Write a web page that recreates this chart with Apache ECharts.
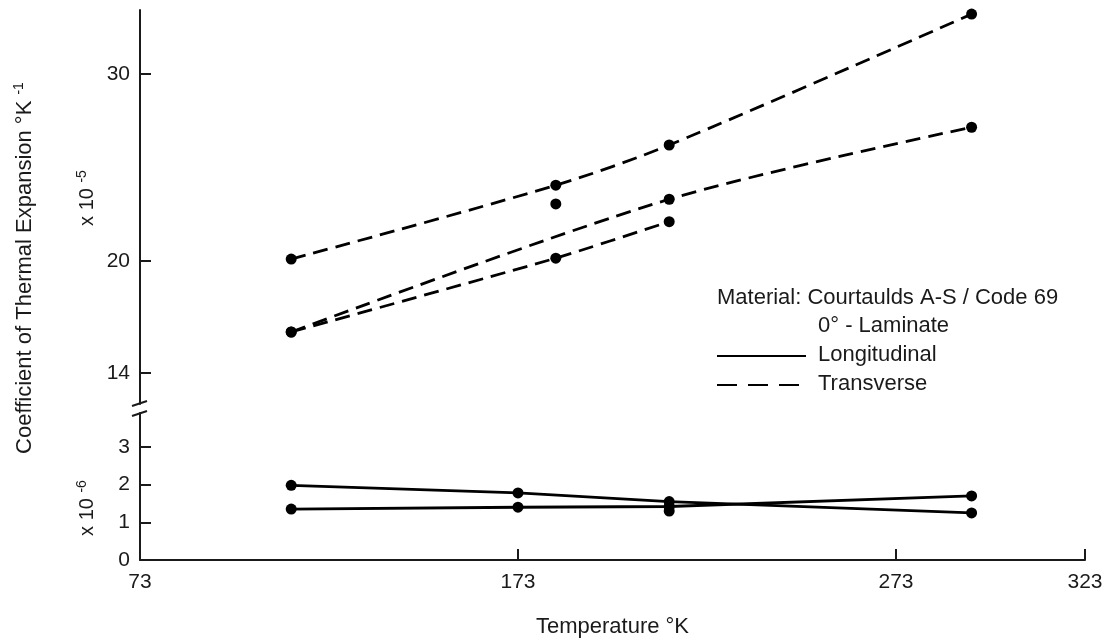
<!DOCTYPE html>
<html>
<head>
<meta charset="utf-8">
<script src="https://cdn.jsdelivr.net/npm/echarts@6/dist/echarts.min.js"></script>
<style>
  html, body { margin: 0; padding: 0; background: #fff; }
  #chart { width: 1108px; height: 642px; }
</style>
</head>
<body>
<div id="chart"></div>
<script>
// x axis (Temperature °K)
var xTicks = [73, 173, 273, 323];
// upper part, transverse, x 10^-5
var upperTicks = [14, 20, 30];
var transTempA = [113, 183, 213, 293];
var transA = [20.1, 24.05, 26.2, 33.2];
var transTempB = [113, 213, 293];
var transB = [16.2, 23.3, 27.15];
var transTempC = [113, 183, 213];
var transC = [16.2, 20.15, 22.1];
var transLoneTemp = [183];
var transLone = [23.05];
// lower part, longitudinal, x 10^-6
var lowerTicks = [0, 1, 2, 3];
var longTemp = [113, 173, 213, 293];
var longA = [1.98, 1.78, 1.55, 1.25];
var longB = [1.35, 1.4, 1.42, 1.7];
var longLoneTemp = [213];
var longLone = [1.3];

function pairs(xs, ys) {
  return xs.map(function (x, i) { return [x, ys[i]]; });
}

var font = 'Liberation Sans, Arial, sans-serif';
var ink = '#1a1a1a';

var chart = echarts.init(document.getElementById('chart'));

var xBase = {
  type: 'value',
  min: 73,
  max: 323,
  axisLine: { lineStyle: { color: ink, width: 2 } },
  splitLine: { show: false }
};

var yBase = {
  type: 'value',
  axisLine: { show: true, lineStyle: { color: ink, width: 2 } },
  axisTick: { show: true, inside: true, length: 11, lineStyle: { color: ink, width: 2 } },
  axisLabel: { color: ink, fontSize: 21, fontFamily: font, margin: 10 },
  splitLine: { show: false }
};

var dashed = { color: '#000', width: 2.8, type: [15, 8] };
var solid = { color: '#000', width: 2.8, type: 'solid' };

function lineSeries(grid, xs, ys, style, smooth) {
  return {
    type: 'line',
    xAxisIndex: grid,
    yAxisIndex: grid,
    data: pairs(xs, ys),
    smooth: smooth,
    symbol: 'circle',
    symbolSize: 11,
    itemStyle: { color: '#000' },
    lineStyle: style,
    animation: false
  };
}

function dotSeries(grid, xs, ys) {
  return {
    type: 'scatter',
    xAxisIndex: grid,
    yAxisIndex: grid,
    data: pairs(xs, ys),
    symbolSize: 11,
    itemStyle: { color: '#000', opacity: 1 },
    animation: false
  };
}

var option = {
  backgroundColor: '#fff',
  grid: [
    { left: 140, right: 23, top: 10, height: 394 },
    { left: 140, right: 23, top: 413, height: 147 }
  ],
  xAxis: [
    Object.assign({}, xBase, {
      gridIndex: 0,
      show: false
    }),
    Object.assign({}, xBase, {
      gridIndex: 1,
      axisTick: { show: true, inside: true, length: 11, lineStyle: { color: ink, width: 2 }, customValues: xTicks },
      axisLabel: { color: ink, fontSize: 21, fontFamily: font, margin: 12, customValues: xTicks },
      name: 'Temperature °K',
      nameLocation: 'middle',
      nameGap: 56,
      nameTextStyle: { color: ink, fontSize: 22, fontFamily: font }
    })
  ],
  yAxis: [
    Object.assign({}, yBase, {
      gridIndex: 0,
      min: 12.35,
      max: 33.42,
      axisTick: Object.assign({}, yBase.axisTick, { customValues: upperTicks }),
      axisLabel: Object.assign({}, yBase.axisLabel, { customValues: upperTicks })
    }),
    Object.assign({}, yBase, {
      gridIndex: 1,
      min: 0,
      max: 3.9,
      axisTick: Object.assign({}, yBase.axisTick, { customValues: lowerTicks.slice(1) }),
      axisLabel: Object.assign({}, yBase.axisLabel, { customValues: lowerTicks })
    })
  ],
  series: [
    lineSeries(0, transTempA, transA, dashed, 0.3),
    lineSeries(0, transTempB, transB, dashed, 0.3),
    lineSeries(0, transTempC, transC, dashed, 0.2),
    dotSeries(0, transLoneTemp, transLone),
    lineSeries(1, longTemp, longA, solid, false),
    lineSeries(1, longTemp, longB, solid, false),
    dotSeries(1, longLoneTemp, longLone)
  ],
  graphic: [
    // axis break marks
    { type: 'line', shape: { x1: 132, y1: 406, x2: 147, y2: 401 }, style: { stroke: ink, lineWidth: 2 } },
    { type: 'line', shape: { x1: 132, y1: 416, x2: 147, y2: 411 }, style: { stroke: ink, lineWidth: 2 } },
    // y axis title
    {
      type: 'text', x: 25, y: 268, rotation: Math.PI / 2,
      style: {
        text: '{a|Coefficient of Thermal Expansion °K }{s|-1}',
        align: 'center', verticalAlign: 'middle',
        rich: {
          a: { fontSize: 22, fontFamily: font, fill: ink, lineHeight: 26 },
          s: { fontSize: 14, fontFamily: font, fill: ink, verticalAlign: 'top', lineHeight: 26 }
        }
      }
    },
    {
      type: 'text', x: 87, y: 198, rotation: Math.PI / 2,
      style: {
        text: '{a|x 10 }{s|-5}',
        align: 'center', verticalAlign: 'middle',
        rich: {
          a: { fontSize: 20, fontFamily: font, fill: ink, lineHeight: 24 },
          s: { fontSize: 14, fontFamily: font, fill: ink, verticalAlign: 'top', lineHeight: 24 }
        }
      }
    },
    {
      type: 'text', x: 87, y: 508, rotation: Math.PI / 2,
      style: {
        text: '{a|x 10 }{s|-6}',
        align: 'center', verticalAlign: 'middle',
        rich: {
          a: { fontSize: 20, fontFamily: font, fill: ink, lineHeight: 24 },
          s: { fontSize: 14, fontFamily: font, fill: ink, verticalAlign: 'top', lineHeight: 24 }
        }
      }
    },
    // legend block
    { type: 'text', x: 717, y: 298, style: { text: 'Material: Courtaulds A-S / Code 69', fontSize: 22, fontFamily: font, fill: ink, verticalAlign: 'middle' } },
    { type: 'text', x: 818, y: 326, style: { text: '0° - Laminate', fontSize: 22, fontFamily: font, fill: ink, verticalAlign: 'middle' } },
    { type: 'line', shape: { x1: 717, y1: 356, x2: 806, y2: 356 }, style: { stroke: '#000', lineWidth: 2 } },
    { type: 'text', x: 818, y: 355, style: { text: 'Longitudinal', fontSize: 22, fontFamily: font, fill: ink, verticalAlign: 'middle' } },
    { type: 'line', shape: { x1: 717, y1: 385, x2: 806, y2: 385 }, style: { stroke: '#000', lineWidth: 2, lineDash: [20, 11] } },
    { type: 'text', x: 818, y: 384, style: { text: 'Transverse', fontSize: 22, fontFamily: font, fill: ink, verticalAlign: 'middle' } }
  ]
};

chart.setOption(option);
</script>
</body>
</html>
